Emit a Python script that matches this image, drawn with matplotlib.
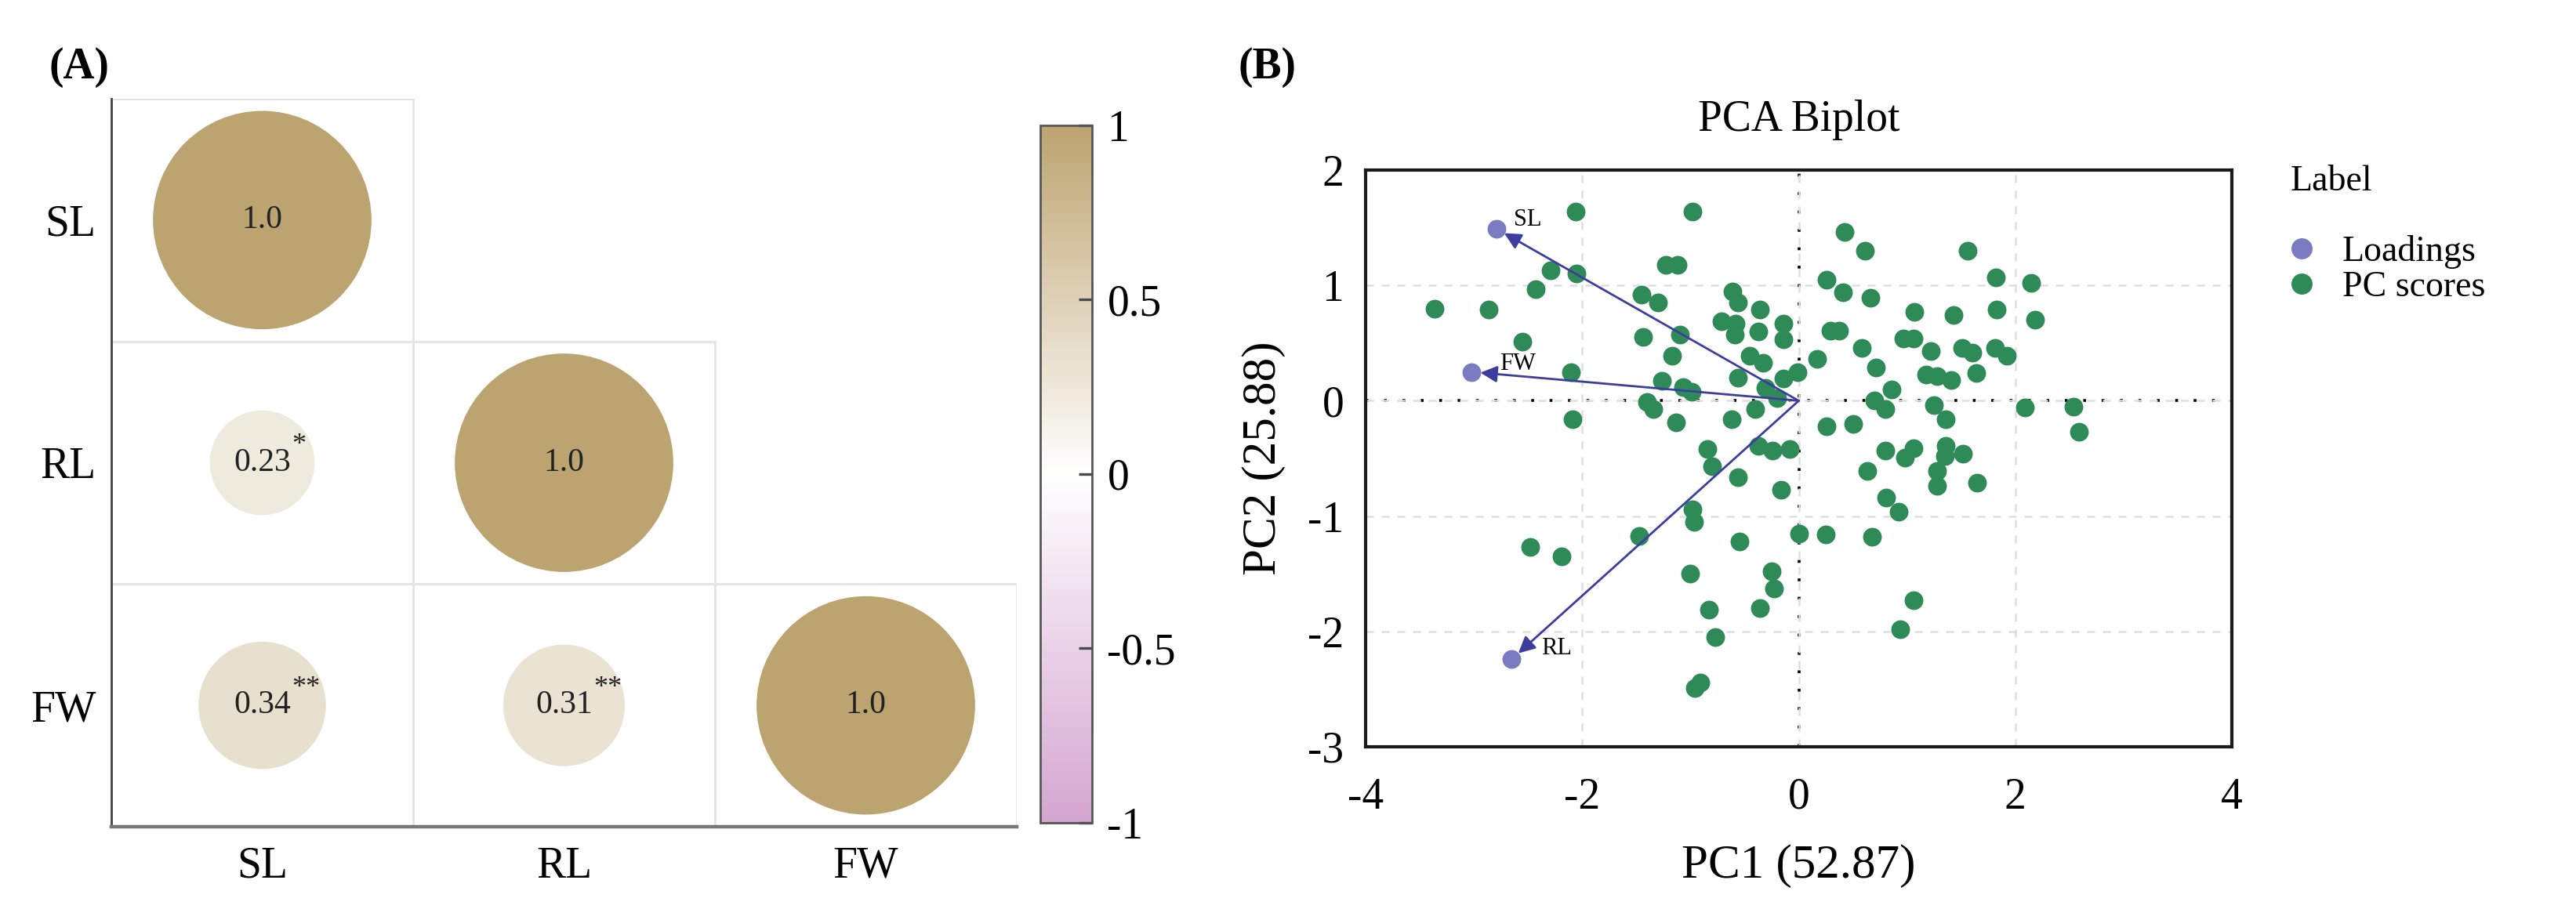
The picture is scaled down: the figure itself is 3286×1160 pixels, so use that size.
import matplotlib
matplotlib.use('Agg')
import matplotlib.pyplot as plt
from matplotlib.colors import LinearSegmentedColormap
from matplotlib.lines import Line2D
from matplotlib.patches import Rectangle
from matplotlib.ticker import FuncFormatter

plt.rcParams['font.family'] = ['Liberation Serif', 'DejaVu Serif']
plt.rcParams['axes.unicode_minus'] = False

# ---- data: correlation panel (A)
traits = ['SL', 'RL', 'FW']
corr_r = [[1.0, None, None],
          [0.23, 1.0, None],
          [0.34, 0.31, 1.0]]
corr_stars = [['', '', ''],
              ['*', '', ''],
              ['**', '**', '']]
cbar_ticks = [1, 0.5, 0, -0.5, -1]

# ---- data: PCA biplot (B)
pc1_scores = [
    -2.06, -0.98, -1.23, -1.12, -2.29, -2.05, -2.43, -3.36, -2.86, -1.45,
    -1.30, -0.61, -0.56, -0.36, -0.71, -0.58, -0.59, -0.37, -0.14, -0.14,
    -2.55, -1.44, -1.10, -1.17, -0.45, -0.33, -2.10, -0.56, -1.26, -1.07,
    -0.99, -0.31, -0.20, -0.40, -0.14, -0.01, -1.40, -1.34, -2.09, -1.13,
    -0.62, -0.84, -0.37, -0.24, -0.08,
    -0.80, -0.56, -0.16, -0.98, -0.97, -1.47, -0.55, 0.00, -2.48, -2.19,
    -1.00, -0.25, -0.23, -0.83, -0.36, -0.77, -0.96, -0.91,
    0.42, 0.61, 1.56, 0.26, 0.41, 0.66, 1.82, 2.15, 1.07, 1.43,
    1.83, 2.18, 0.29, 0.37, 0.97, 1.06, 0.58, 1.22, 1.51, 1.60,
    1.81, 1.92, 0.17, 0.71, 1.18, 1.28, 1.41, 1.64, 0.86, 0.70,
    0.80, 1.25, 1.36, 2.09, 2.54, 2.59, 0.26, 0.50, 0.80, 1.06,
    0.98, 1.36, 1.35, 1.52,
    1.28, 1.28, 0.63, 1.65, 0.81, 0.92, 0.25, 0.68, 1.06, 0.94,
]
pc2_scores = [
    1.64, 1.64, 1.18, 1.18, 1.13, 1.10, 0.97, 0.80, 0.79, 0.92,
    0.85, 0.95, 0.85, 0.79, 0.69, 0.67, 0.57, 0.60, 0.67, 0.53,
    0.51, 0.55, 0.57, 0.39, 0.39, 0.33, 0.25, 0.20, 0.17, 0.12,
    0.08, 0.11, 0.02, -0.07, 0.19, 0.25, -0.01, -0.07, -0.16, -0.19,
    -0.16, -0.42, -0.39, -0.43, -0.42,
    -0.57, -0.66, -0.77, -0.94, -1.05, -1.17, -1.22, -1.15, -1.27, -1.35,
    -1.50, -1.48, -1.63, -1.81, -1.80, -2.05, -2.49, -2.44,
    1.46, 1.30, 1.30, 1.05, 0.94, 0.89, 1.07, 1.02, 0.77, 0.74,
    0.79, 0.70, 0.61, 0.61, 0.54, 0.54, 0.46, 0.43, 0.46, 0.42,
    0.46, 0.39, 0.36, 0.29, 0.23, 0.21, 0.18, 0.24, 0.10, 0.00,
    -0.07, -0.04, -0.16, -0.06, -0.05, -0.27, -0.22, -0.20, -0.43, -0.41,
    -0.49, -0.39, -0.48, -0.46,
    -0.61, -0.74, -0.61, -0.71, -0.84, -0.96, -1.16, -1.18, -1.73, -1.98,
]
load_names = ['SL', 'FW', 'RL']
load_pc1 = [-2.79, -3.02, -2.65]
load_pc2 = [1.49, 0.25, -2.24]
x_ticks = [-4, -2, 0, 2, 4]
y_ticks = [-3, -2, -1, 0, 1, 2]

W, H, DPI = 3286, 1160, 200
fig = plt.figure(figsize=(W / DPI, H / DPI), dpi=DPI)


def fbox(l, t, r, b):
    # pixel box of the reference -> figure fraction
    return [l / W, 1 - b / H, (r - l) / W, (b - t) / H]


# ================= (A) correlation plot
axc = fig.add_axes(fbox(142, 126, 1297, 1055))
axc.set_xlim(0, 3)
axc.set_ylim(3, 0)
cmap = LinearSegmentedColormap.from_list('corr', ['#D3A6CF', '#FFFFFF', '#BCA470'])
cell_pt = (1055 - 126) / 3 * 72 / DPI
d_full = 0.9 * cell_pt

xs, ys, vals = [], [], []
for i in range(3):
    for j in range(i + 1):
        axc.add_patch(Rectangle((j, i), 1, 1, fill=False, ec='#E4E4E4', lw=1.0, zorder=0))
        xs.append(j + 0.5)
        ys.append(i + 0.5)
        vals.append(corr_r[i][j])
sc = axc.scatter(xs, ys, s=[d_full ** 2 * abs(v) for v in vals], c=vals,
                 cmap=cmap, vmin=-1, vmax=1, linewidths=0, zorder=2)

for i in range(3):
    for j in range(i + 1):
        v = corr_r[i][j]
        lab = '1.0' if v == 1 else f'{v:.2f}'
        t = axc.text(j + 0.5, i + 0.5, lab, ha='center', va='center',
                     fontsize=15, color='#222222', zorder=3)
        if corr_stars[i][j]:
            axc.annotate(corr_stars[i][j], xy=(1, 1), xycoords=t, xytext=(0.5, 1),
                         textcoords='offset points', ha='left', va='center',
                         fontsize=13, color='#222222', zorder=3)

axc.set_xticks([0.5, 1.5, 2.5])
axc.set_xticklabels(traits)
axc.set_yticks([0.5, 1.5, 2.5])
axc.set_yticklabels(traits)
axc.tick_params(length=0, labelsize=20)
axc.tick_params(axis='x', pad=9)
axc.tick_params(axis='y', pad=7)
for s in ['top', 'right']:
    axc.spines[s].set_visible(False)
axc.spines['left'].set_color('#444444')
axc.spines['left'].set_linewidth(1.0)
axc.spines['bottom'].set_color('#777777')
axc.spines['bottom'].set_linewidth(1.6)

cax = fig.add_axes(fbox(1327, 160, 1393, 1050))
cb = fig.colorbar(sc, cax=cax, ticks=cbar_ticks)
cb.ax.yaxis.set_major_formatter(FuncFormatter(lambda v, p: f'{v:g}'))
cb.ax.tick_params(direction='in', length=6, width=1.2, color='#4a4a4a',
                  labelsize=20, pad=7)
cb.outline.set_edgecolor('#555555')
cb.outline.set_linewidth(1.0)

# ================= (B) PCA biplot
axp = fig.add_axes(fbox(1742, 217, 2847, 953))
axp.set_xlim(-4, 4)
axp.set_ylim(-3, 2)
axp.set_xticks(x_ticks)
axp.set_yticks(y_ticks)
axp.grid(True, ls=(0, (4, 4)), color='#DEDEDE', lw=0.9, zorder=0)
axp.axvline(0, color='black', ls=(0, (1, 5.5)), lw=1.3, zorder=1)
axp.axhline(0, color='black', ls=(0, (1, 5.5)), lw=1.3, zorder=1)

green = '#2E8B57'
purple = '#7B7BC2'
axp.scatter(pc1_scores, pc2_scores, s=74, color=green, linewidths=0, zorder=3)
axp.scatter(load_pc1, load_pc2, s=74, color=purple, linewidths=0, zorder=4)

label_offsets = [(8, 4), (13, 3.5), (13.5, 5)]
for name, lx, ly, off in zip(load_names, load_pc1, load_pc2, label_offsets):
    axp.annotate('', xy=(lx, ly), xytext=(0, 0),
                 arrowprops=dict(arrowstyle='-|>', color='#3D3D9E', lw=1.0,
                                 mutation_scale=16, shrinkA=0, shrinkB=4),
                 zorder=5)
    axp.annotate(name, (lx, ly), xytext=off, textcoords='offset points',
                 ha='left', va='center', fontsize=11, zorder=6)

axp.tick_params(length=0, labelsize=20)
axp.tick_params(axis='x', pad=14)
axp.tick_params(axis='y', pad=10)
for s in axp.spines.values():
    s.set_color('#1a1a1a')
    s.set_linewidth(1.5)
axp.set_title('PCA Biplot', fontsize=20, pad=18)
axp.set_xlabel('PC1 (52.87)', fontsize=22, labelpad=12)
axp.set_ylabel('PC2 (25.88)', fontsize=22, labelpad=10)

# legend
fig.text(2922 / W, 1 - 232 / H, 'Label', fontsize=16.5, ha='left', va='center')
handles = [Line2D([], [], ls='none', marker='o', ms=9.7, mfc=purple, mec='none'),
           Line2D([], [], ls='none', marker='o', ms=9.7, mfc=green, mec='none')]
fig.legend(handles, ['Loadings', 'PC scores'], loc='upper left',
           bbox_to_anchor=(2913 / W, 1 - 300 / H), frameon=False, fontsize=16.5,
           borderpad=0, borderaxespad=0, handlelength=1.0, handletextpad=0.63,
           labelspacing=0.05)

# panel tags
fig.text(101 / W, 1 - 86 / H, '(A)', fontsize=20, fontweight='bold', ha='center', va='center')
fig.text(1617 / W, 1 - 86 / H, '(B)', fontsize=20, fontweight='bold', ha='center', va='center')

fig.savefig('out.png', dpi=DPI)
